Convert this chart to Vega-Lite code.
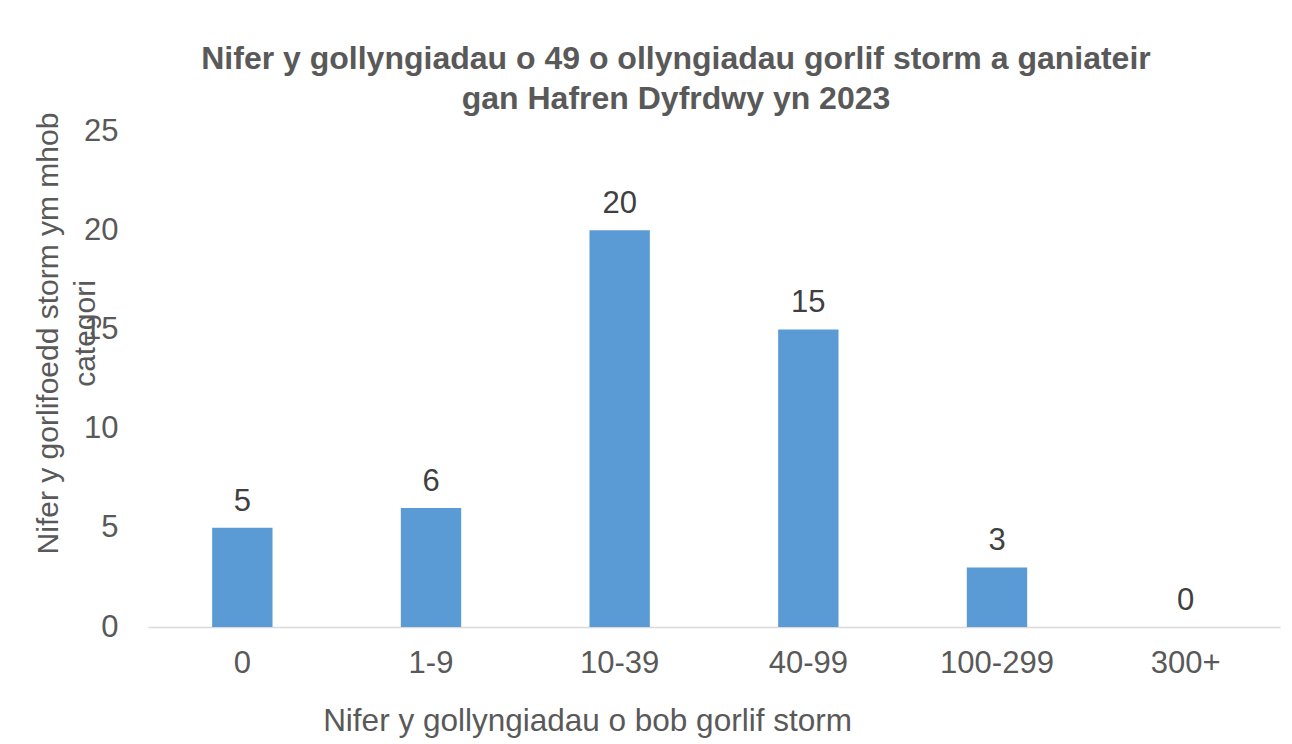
{
  "$schema": "https://vega.github.io/schema/vega-lite/v6.json",
  "width": 1132,
  "height": 496,
  "autosize": {"type": "none"},
  "padding": {"left": 148, "top": 131, "right": 12, "bottom": 117},
  "background": "white",
  "title": {
    "text": ["Nifer y gollyngiadau o 49 o ollyngiadau gorlif storm a ganiateir", "gan Hafren Dyfrdwy yn 2023"],
    "font": "Liberation Sans",
    "fontSize": 32,
    "fontWeight": "bold",
    "color": "#595959",
    "anchor": "middle",
    "baseline": "bottom",
    "lineHeight": 40,
    "offset": -36,
    "dx": -38
  },
  "data": {
    "values": [
      {"category": "0", "count": 5},
      {"category": "1-9", "count": 6},
      {"category": "10-39", "count": 20},
      {"category": "40-99", "count": 15},
      {"category": "100-299", "count": 3},
      {"category": "300+", "count": 0}
    ]
  },
  "config": {
    "view": {"stroke": null},
    "font": "Liberation Sans",
    "axis": {"grid": false, "ticks": false, "labelColor": "#595959", "titleColor": "#595959", "labelFont": "Liberation Sans", "titleFont": "Liberation Sans", "titleFontWeight": "normal"}
  },
  "encoding": {
    "x": {
      "field": "category",
      "type": "nominal",
      "sort": null,
      "scale": {"paddingInner": 0.68, "paddingOuter": 0.34},
      "axis": {
        "title": "Nifer y gollyngiadau  o bob gorlif storm",
        "labelAngle": 0,
        "labelFontSize": 31,
        "labelPadding": 21,
        "domainColor": "#D9D9D9",
        "domainWidth": 1.5,
        "titleFontSize": 31.5,
        "titleX": 439,
        "titleY": 103,
        "titleBaseline": "alphabetic",
        "titleAnchor": null,
        "titleAlign": "center"
      }
    },
    "y": {
      "field": "count",
      "type": "quantitative",
      "scale": {"domain": [0, 25]},
      "axis": {
        "title": ["Nifer y gorlifoedd storm ym mhob", "categori"],
        "values": [0, 5, 10, 15, 20, 25],
        "domain": false,
        "labelFontSize": 31,
        "labelPadding": 30,
        "titleFontSize": 30,
        "titleLineHeight": 37,
        "titleX": -91,
        "titleY": 202,
        "titleBaseline": "alphabetic",
        "titleAlign": "center",
        "titleAngle": -90
      }
    }
  },
  "layer": [
    {"mark": {"type": "bar", "color": "#5B9BD5"}},
    {
      "mark": {"type": "text", "fontSize": 31, "color": "#404040", "baseline": "alphabetic", "dy": -17, "font": "Liberation Sans"},
      "encoding": {"text": {"field": "count", "type": "quantitative"}}
    }
  ]
}
